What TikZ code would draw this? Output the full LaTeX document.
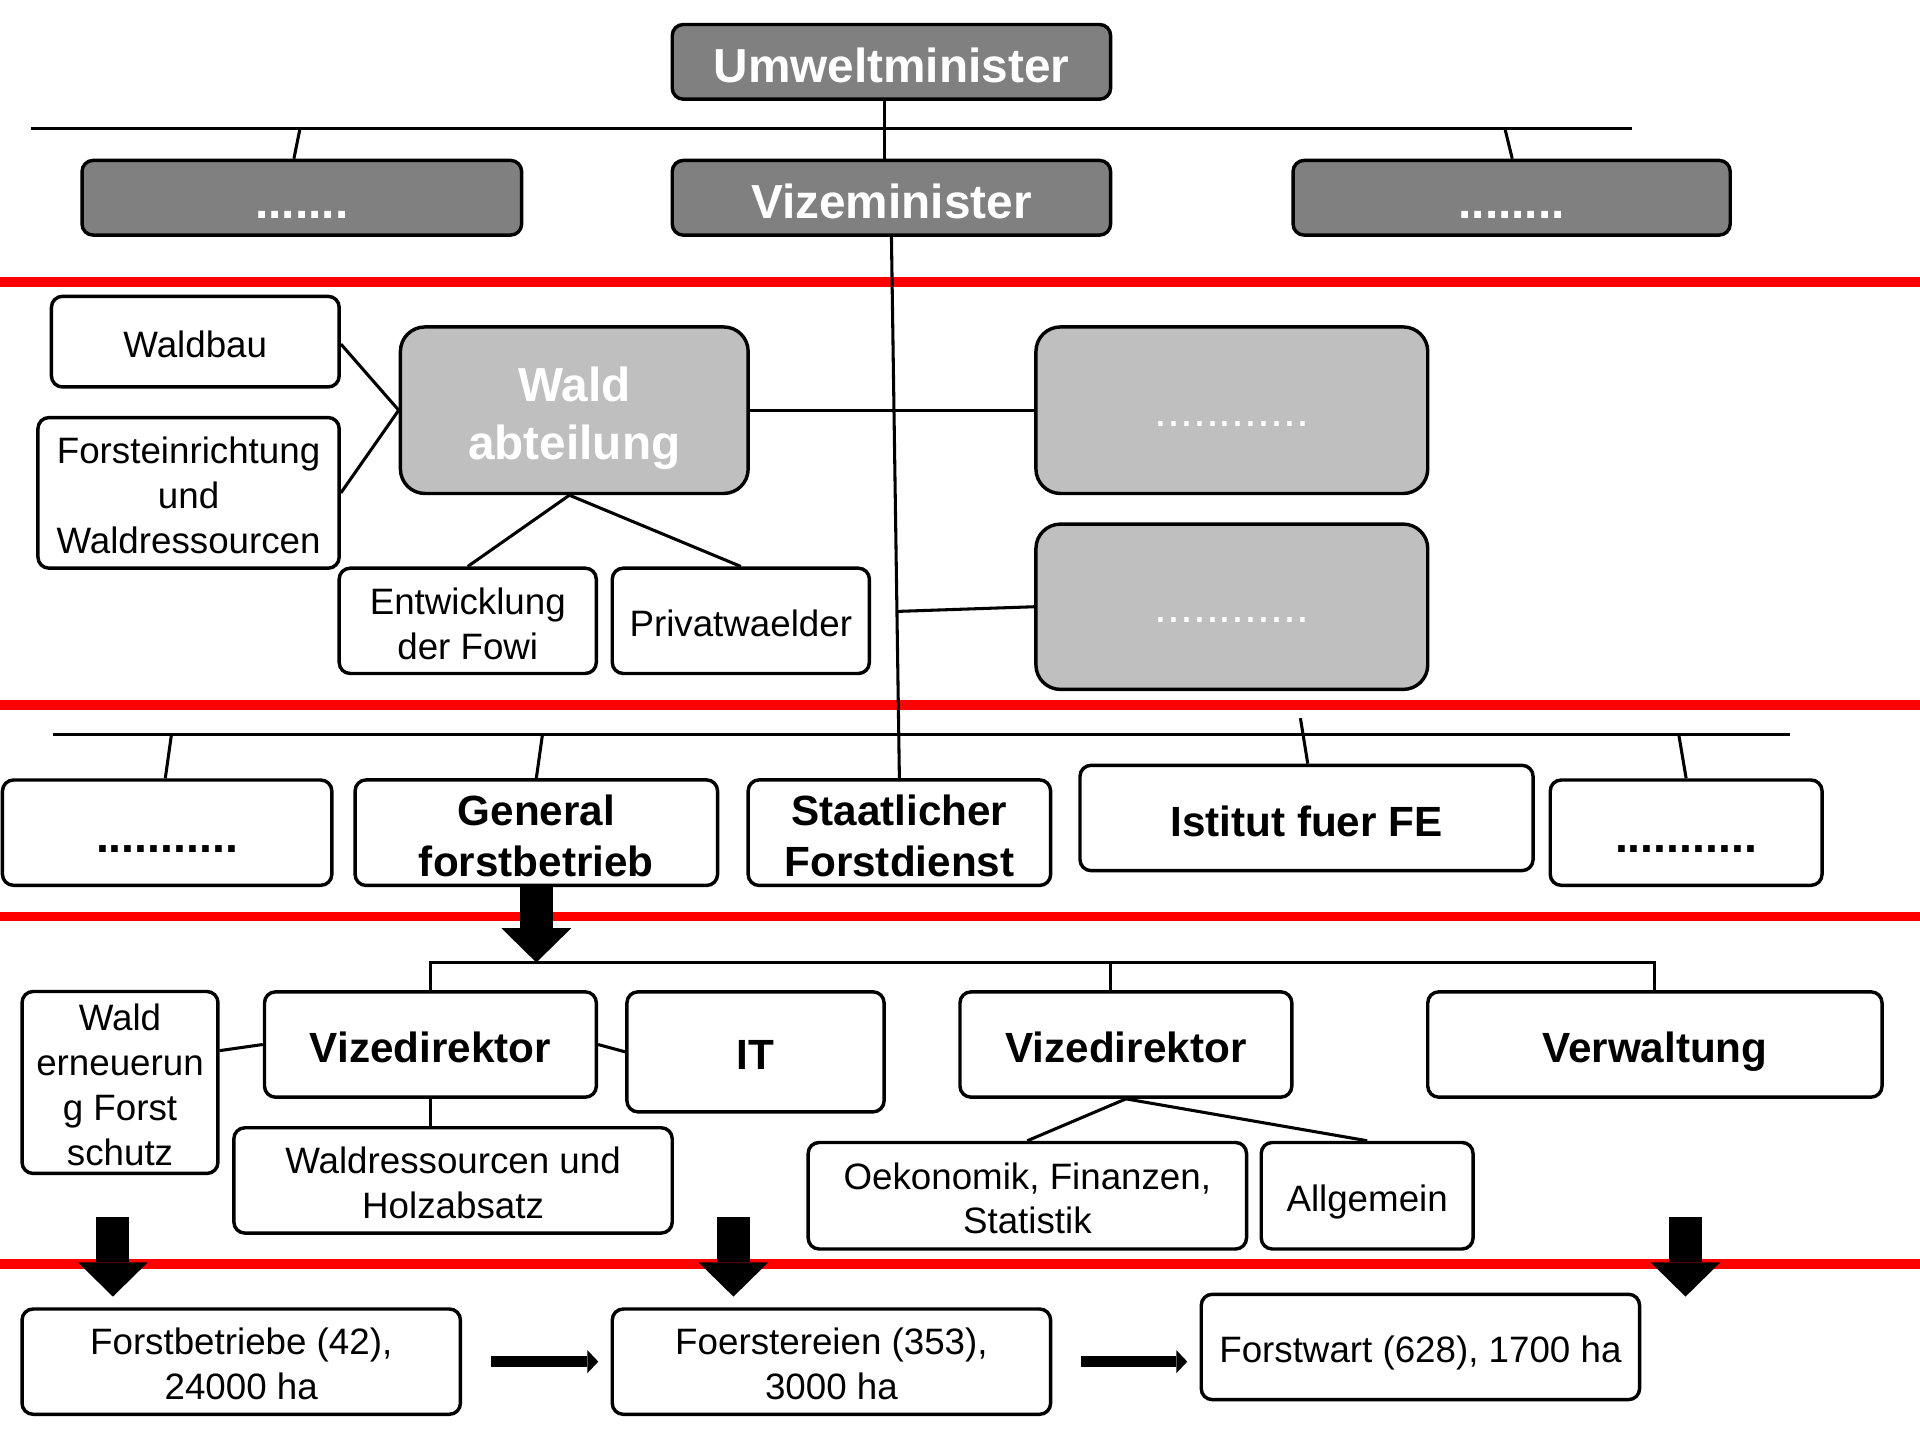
\documentclass[tikz,border=0pt]{standalone}
\usepackage{fontspec}
\setmainfont{Liberation Sans}
\usetikzlibrary{arrows.meta,calc}
\definecolor{dgray}{HTML}{808080}
\definecolor{lgray}{HTML}{BFBFBF}
\definecolor{redl}{HTML}{FF0000}
\newcommand{\mystrut}{\vrule height .905em depth .212em width 0pt\relax}
\newcommand{\fstrut}{\vrule height 1.07em depth .212em width 0pt\relax}
\begin{document}
\begin{tikzpicture}[x=1pt,y=-1pt,
  base/.style={draw=black, line width=2.8pt, rounded corners=9pt, inner sep=0pt, align=center},
  wbox/.style={base, fill=white, font=\fontsize{30}{36.7}\selectfont},
  dbox/.style={base, fill=dgray, text=white, font=\fontsize{39}{47}\selectfont\bfseries},
  lbox/.style={base, fill=lgray, rounded corners=20pt, text=white},
  bbox/.style={base, fill=white, font=\fontsize{34.5}{42}\selectfont\bfseries},
  conn/.style={line width=2.5pt},
  redline/.style={draw=redl, line width=8pt},
  bigarr/.style={line width=27pt, -{Triangle[width=57pt,length=28pt,line width=0pt]}},
  smallarr/.style={line width=9.5pt, -{Triangle[width=19pt,length=9pt,line width=0pt]}},
]
\useasboundingbox (0,0) rectangle (1568,1176);
\fill[white] (0,0) rectangle (1568,1176);

% red separators
\draw[redline] (0,230) -- (1568,230);
\draw[redline] (0,575.5) -- (1568,575.5);
\draw[redline] (0,748.5) -- (1568,748.5);
\draw[redline] (0,1032) -- (1568,1032);

% top level
\node[dbox, minimum width=358pt, minimum height=61pt] (um) at (728,50.5) {Umweltminister\fstrut};
\node[dbox, minimum width=359pt, minimum height=61pt] (dl) at (246.5,161.5) {.......\fstrut};
\node[dbox, minimum width=358pt, minimum height=61pt] (vm) at (728,161.5) {Vizeminister\fstrut};
\node[dbox, minimum width=357pt, minimum height=61pt] (dr) at (1234.5,161.5) {........\fstrut};

% section 2
\node[wbox, minimum width=235pt, minimum height=74pt] (waldbau) at (159.5,279) {Waldbau\fstrut};
\node[wbox, minimum width=246pt, minimum height=123pt] (forst) at (154,402.5) {Forsteinrichtung\fstrut\\und\mystrut\\Waldressourcen\mystrut};
\node[lbox, minimum width=284pt, minimum height=136pt, font=\fontsize{39}{47}\selectfont\bfseries] (wald) at (469,335) {Wald\fstrut\\abteilung\mystrut};
\node[wbox, minimum width=210pt, minimum height=86pt] (entw) at (382,507) {Entwicklung\fstrut\\der Fowi\mystrut};
\node[wbox, minimum width=210pt, minimum height=86pt] (priv) at (605,507) {Privatwaelder\fstrut};
\node[lbox, minimum width=320pt, minimum height=136pt, font=\fontsize{38}{46}\selectfont] (g1) at (1006,335) {............\mystrut};
\node[lbox, minimum width=320pt, minimum height=135pt, font=\fontsize{38}{46}\selectfont] (g2) at (1006,495.5) {............\mystrut};

% section 3
\node[bbox, minimum width=269pt, minimum height=86pt, font=\fontsize{38}{47}\selectfont\bfseries] (d3l) at (136.5,680) {...........\fstrut};
\node[bbox, minimum width=296pt, minimum height=86pt] (gen) at (438,680) {General\fstrut\\forstbetrieb\mystrut};
\node[bbox, minimum width=247pt, minimum height=86pt] (staat) at (734.5,680) {Staatlicher\fstrut\\Forstdienst\mystrut};
\node[bbox, minimum width=370pt, minimum height=86pt] (ist) at (1067,668) {Istitut fuer FE\fstrut};
\node[bbox, minimum width=222pt, minimum height=86pt, font=\fontsize{38}{47}\selectfont\bfseries] (d3r) at (1377,680) {...........\fstrut};

% section 4
\node[wbox, minimum width=160pt, minimum height=148pt] (werneu) at (98,884) {Wald\fstrut\\erneuerun\mystrut\\g Forst\mystrut\\schutz\mystrut};
\node[bbox, minimum width=271pt, minimum height=86pt] (vd1) at (351.5,853) {Vizedirektor\fstrut};
\node[bbox, minimum width=210pt, minimum height=98pt] (it) at (617,859) {IT\fstrut};
\node[bbox, minimum width=271pt, minimum height=86pt] (vd2) at (919.5,853) {Vizedirektor\fstrut};
\node[bbox, minimum width=371pt, minimum height=86pt] (verw) at (1351.5,853) {Verwaltung\fstrut};
\node[wbox, minimum width=358pt, minimum height=86pt] (wres) at (370,964) {Waldressourcen und\fstrut\\Holzabsatz\mystrut};
\node[wbox, minimum width=358pt, minimum height=87pt] (oek) at (839,976.5) {Oekonomik, Finanzen,\fstrut\\Statistik\mystrut};
\node[wbox, minimum width=173pt, minimum height=87pt] (allg) at (1116.5,976.5) {Allgemein\fstrut};

% section 5
\node[wbox, minimum width=358pt, minimum height=86pt] (fb) at (197,1112) {Forstbetriebe (42),\fstrut\\24000 ha\mystrut};
\node[wbox, minimum width=358pt, minimum height=86pt] (foe) at (679,1112) {Foerstereien (353),\fstrut\\3000 ha\mystrut};
\node[wbox, minimum width=358pt, minimum height=86pt] (fw) at (1160,1100) {Forstwart (628), 1700 ha\fstrut};

% connectors top
\coordinate (tbL) at (25,105);
\coordinate (tbR) at (1333,105);
\coordinate (tb1) at (245,105);
\coordinate (tb2) at (1229,105);
\draw[conn] (tbL) -- (tbR);
\draw[conn] ([xshift=-5.3pt]um.south) -- ([xshift=-5.3pt]vm.north);
\draw[conn] (tb1) -- ([xshift=-6.5pt]dl.north);
\draw[conn] (tb2) -- ([xshift=0.5pt]dr.north);
\draw[conn] (vm.south) -- (staat.north);

% connectors section 2
\draw[conn] ([yshift=-2pt]waldbau.east) -- (wald.west);
\draw[conn] (forst.east) -- (wald.west);
\draw[conn] ([xshift=-4pt]wald.south) -- (entw.north);
\draw[conn] ([xshift=-4pt]wald.south) -- (priv.north);
\draw[conn] (wald.east) -- (g1.west);
\coordinate (vs) at ($(vm.south)!0.692!(staat.north)$);
\draw[conn] (vs) -- (g2.west);

% connectors section 3
\coordinate (mbL) at (43,600);
\coordinate (mbR) at (1462,600);
\coordinate (m1) at (140,600);
\coordinate (m2) at (443,600);
\coordinate (m3) at (1062,586.5);
\coordinate (m4) at (1371,600);
\draw[conn] (mbL) -- (mbR);
\draw[conn] (m1) -- ([xshift=-1.5pt]d3l.north);
\draw[conn] (m2) -- (gen.north);
\draw[conn] (m3) -- ([xshift=1pt]ist.north);
\draw[conn] (m4) -- (d3r.north);

% connectors section 4
\coordinate (b4) at (351,786);
\draw[conn] (vd1.north) -- (vd1.north |- b4) -- (verw.north |- b4) -- (verw.north);
\draw[conn] ([xshift=-12.5pt]vd2.north) -- ([xshift=-12.5pt]vd2.north |- b4);
\draw[bigarr] (gen.south) -- (gen.south |- b4);
\draw[conn] ([yshift=26pt]werneu.east) -- (vd1.west);
\draw[conn] (vd1.east) -- (it.west);
\draw[conn] (vd1.south) -- (vd1.south |- wres.north);
\draw[conn] (vd2.south) -- (oek.north);
\draw[conn] (vd2.south) -- (allg.north);

% down arrows
\coordinate (a1s) at (92.2,993.6);
\coordinate (a1e) at (92.2,1058.9);
\coordinate (a2s) at (599,993.6);
\coordinate (a2e) at (599,1058.9);
\coordinate (a3s) at (1376.5,993.6);
\coordinate (a3e) at (1376.5,1058.9);
\draw[bigarr] (a1s) -- (a1e);
\draw[bigarr] (a2s) -- (a2e);
\draw[bigarr] (a3s) -- (a3e);

% horizontal arrows
\draw[smallarr, shorten <=23.4pt, shorten >=10pt] (fb.east) -- (foe.west);
\draw[smallarr, shorten <=23pt, shorten >=10pt] (foe.east) -- (foe.east -| fw.west);
\end{tikzpicture}
\end{document}
